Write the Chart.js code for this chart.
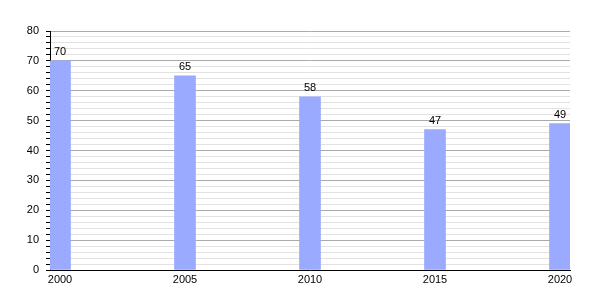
<!DOCTYPE html>
<html lang="en">
<head>
  <meta charset="UTF-8" />
  <title>Values by year</title>
  <script src="https://cdn.jsdelivr.net/npm/chart.js"></script>
  <style>
    html, body { margin: 0; padding: 0; background: #fff; }
    #wrap { width: 600px; height: 300px; }
  </style>
</head>
<body>
  <div id="wrap"><canvas id="chart"></canvas></div>

  <script>
    // chart data
    const years = [2000, 2005, 2010, 2015, 2020];
    const values = [70, 65, 58, 47, 49];
    const yTicks = [0, 10, 20, 30, 40, 50, 60, 70, 80];

    const FONT = "'Liberation Sans', Arial, sans-serif";

    // draws the number above each bar
    const valueLabels = {
      id: 'valueLabels',
      afterDatasetsDraw(chart) {
        const ctx = chart.ctx;
        const meta = chart.getDatasetMeta(0);
        ctx.save();
        ctx.font = '11px ' + FONT;
        ctx.fillStyle = '#000';
        ctx.textAlign = 'center';
        ctx.textBaseline = 'bottom';
        meta.data.forEach((bar, i) => {
          ctx.fillText(values[i], bar.x, bar.y - 3);
        });
        ctx.restore();
      }
    };

    new Chart(document.getElementById('chart'), {
      type: 'bar',
      data: {
        datasets: [{
          data: years.map((y, i) => ({ x: y, y: values[i] })),
          backgroundColor: '#99aaff',
          barThickness: 21
        }]
      },
      options: {
        responsive: true,
        maintainAspectRatio: false,
        animation: false,
        layout: { padding: { top: 31, right: 30, left: 0, bottom: 0 } },
        plugins: {
          legend: { display: false },
          tooltip: { enabled: false }
        },
        scales: {
          x: {
            type: 'linear',
            offset: false,
            min: years[0] - 0.4,
            max: years[years.length - 1] + 0.4,
            afterBuildTicks: scale => { scale.ticks = years.map(v => ({ value: v })); },
            afterFit: scale => { scale.height = 30; },
            grid: { display: false, drawTicks: false, tickLength: 0 },
            border: { display: true, color: '#000', width: 1 },
            ticks: {
              autoSkip: false,
              maxRotation: 0,
              padding: 3,
              color: '#000',
              font: { size: 11, family: FONT },
              callback: v => String(v)
            }
          },
          y: {
            min: 0,
            max: 80,
            afterFit: scale => { scale.width = 50; },
            border: { display: true, color: '#000', width: 1 },
            grid: {
              color: c => (yTicks.includes(c.tick.value) ? '#aaaaaa' : '#e2e2e2'),
              tickColor: '#000',
              tickLength: 4
            },
            ticks: {
              stepSize: 2,
              autoSkip: false,
              padding: 7,
              color: '#000',
              font: { size: 11, family: FONT },
              callback: v => (yTicks.includes(v) ? v : '')
            }
          }
        }
      },
      plugins: [valueLabels]
    });
  </script>
</body>
</html>
